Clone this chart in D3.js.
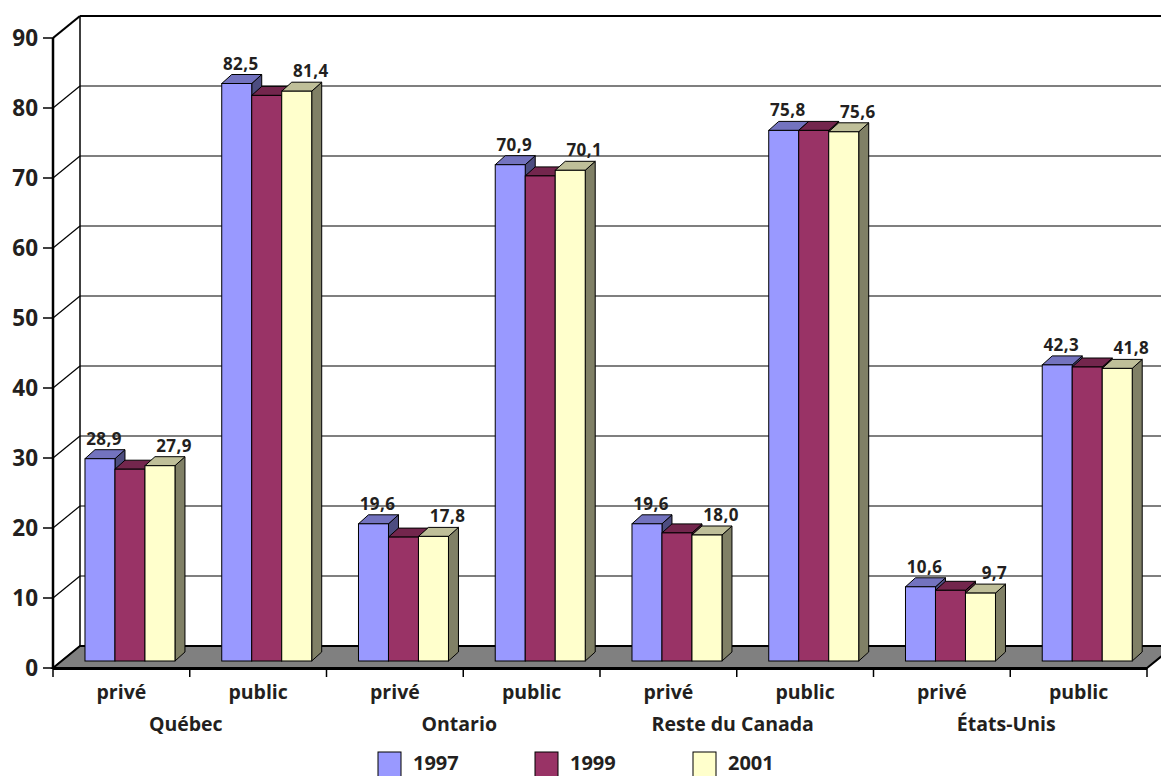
<!DOCTYPE html>
<html><head><meta charset="utf-8">
<script src="https://cdn.jsdelivr.net/npm/d3@7"></script>
<style>html,body{margin:0;padding:0;background:#fff;}svg{display:block;}</style>
</head><body>
<svg id="c" width="1161" height="776"></svg>
<script>
// ---- data ----
const groups = ["Québec", "Ontario", "Reste du Canada", "États-Unis"];
const sectors = ["privé", "public"];
const years = ["1997", "1999", "2001"];
const v1997 = [28.9, 82.5, 19.6, 70.9, 19.6, 75.8, 10.6, 42.3];
const v1999 = [27.4, 80.8, 17.7, 69.3, 18.3, 75.8, 10.1, 42.0];
const v2001 = [27.9, 81.4, 17.8, 70.1, 18.0, 75.6, 9.7, 41.8];
const labeledYears = ["1997", "2001"];
const yTicks = [0, 10, 20, 30, 40, 50, 60, 70, 80, 90];

const seriesValues = {"1997": v1997, "1999": v1999, "2001": v2001};
const cats = [];
groups.forEach(g => sectors.forEach(s => cats.push(g + "|" + s)));

// ---- styling ----
const frontCol = {"1997": "#9999FF", "1999": "#993366", "2001": "#FFFFCC"};
const topCol = {"1997": "#7373BF", "1999": "#73264D", "2001": "#BFBF99"};
const sideCol = {"1997": "#4D4D80", "1999": "#4D1A33", "2001": "#808066"};
const txt = "#231F20";
const font = "'Open Sans', 'DejaVu Sans', sans-serif";

const svg = d3.select("#c");
const X0 = 53, X1 = 1147, Y0 = 668, Y90 = 38;
const DX = 27, DY = -22;           // wall depth
const BDX = 8.6, BDY = -7;          // bar front plane offset
const TDX = 10, TDY = -9;           // bar depth

const y = d3.scaleLinear().domain([0, 90]).range([Y0, Y90]);
const h = v => Y0 - y(v);
const x = d3.scaleBand().domain(cats).range([X0, X1]).paddingInner(0.342).paddingOuter(0.171);
const xs = d3.scaleBand().domain(years).range([0, x.bandwidth()]);
const step = x.step();

// back wall
svg.append("rect").attr("x", X0 + DX).attr("y", Y90 + DY).attr("width", 1161).attr("height", Y0 - Y90).attr("fill", "#fff");

// gridlines on back wall + side wall
const g = svg.append("g");
yTicks.forEach(t => {
  const yy = y(t);
  if (t > 0 && t < 90) {
    g.append("line").attr("x1", X0 + DX).attr("x2", X1 + DX + 20).attr("y1", yy + DY).attr("y2", yy + DY)
      .attr("stroke", "#000").attr("stroke-width", 1.2);
  }
  g.append("line").attr("x1", X0).attr("y1", yy).attr("x2", X0 + DX).attr("y2", yy + DY)
    .attr("stroke", "#000").attr("stroke-width", t === 90 ? 2.2 : 1.2);
  g.append("line").attr("x1", X0 - 10).attr("x2", X0).attr("y1", yy).attr("y2", yy)
    .attr("stroke", "#000").attr("stroke-width", 1.5);
  g.append("text").attr("x", 38).attr("y", yy - 1).attr("text-anchor", "end")
    .attr("dominant-baseline", "central").attr("font-family", font).attr("font-weight", 700)
    .attr("font-size", 22.5).attr("fill", txt).text(t);
});
// top border and back-wall left edge
g.append("line").attr("x1", X0 + DX).attr("x2", X1 + DX + 20).attr("y1", y(90) + DY).attr("y2", y(90) + DY)
  .attr("stroke", "#000").attr("stroke-width", 2.2);
g.append("line").attr("x1", X0 + DX).attr("x2", X0 + DX).attr("y1", y(90) + DY).attr("y2", Y0 + DY)
  .attr("stroke", "#000").attr("stroke-width", 1.5);

// floor
svg.append("path")
  .attr("d", `M${X0},${Y0} L${X1},${Y0} L${X1 + DX},${Y0 + DY} L${X0 + DX},${Y0 + DY} Z`)
  .attr("fill", "#808080").attr("stroke", "#000").attr("stroke-width", 2);
svg.append("line").attr("x1", X0).attr("x2", X1).attr("y1", Y0 + 0.5).attr("y2", Y0 + 0.5)
  .attr("stroke", "#000").attr("stroke-width", 3);
// left axis
svg.append("line").attr("x1", X0).attr("x2", X0).attr("y1", y(90)).attr("y2", Y0)
  .attr("stroke", "#000").attr("stroke-width", 2.5);

// bars
const bars = svg.append("g");
const baseY = Y0 + BDY;
cats.forEach((c, i) => {
  years.forEach(yr => {
    const v = seriesValues[yr][i];
    const bx = x(c) + xs(yr) + BDX;
    const w = xs.bandwidth();
    const top = baseY - h(v);
    bars.append("path")
      .attr("d", `M${bx + w},${top} L${bx + w + TDX},${top + TDY} L${bx + w + TDX},${baseY + TDY} L${bx + w},${baseY} Z`)
      .attr("fill", sideCol[yr]).attr("stroke", "#000").attr("stroke-width", 1).attr("stroke-linejoin", "round");
    bars.append("path")
      .attr("d", `M${bx},${top} L${bx + TDX},${top + TDY} L${bx + w + TDX},${top + TDY} L${bx + w},${top} Z`)
      .attr("fill", topCol[yr]).attr("stroke", "#000").attr("stroke-width", 1).attr("stroke-linejoin", "round");
    bars.append("rect").attr("x", bx).attr("y", top).attr("width", w).attr("height", h(v))
      .attr("fill", frontCol[yr]).attr("stroke", "#000").attr("stroke-width", 1);
  });
});

// value labels
const labels = svg.append("g");
cats.forEach((c, i) => {
  labeledYears.forEach(yr => {
    const v = seriesValues[yr][i];
    const bx = x(c) + xs(yr) + BDX;
    const top = baseY - h(v);
    const off = yr === "1997" ? 4 : 14;
    labels.append("text").attr("x", bx + xs.bandwidth() / 2 + off).attr("y", top + TDY - 5)
      .attr("text-anchor", "middle").attr("font-family", font).attr("font-weight", 700)
      .attr("font-size", 17).attr("letter-spacing", 0.4).attr("fill", txt)
      .text(v.toFixed(1).replace(".", ","));
  });
});

// category axis ticks
const ax = svg.append("g");
for (let k = 0; k <= cats.length; k++) {
  const tx = X0 + k * step;
  ax.append("line").attr("x1", tx).attr("x2", tx).attr("y1", Y0).attr("y2", Y0 + 9)
    .attr("stroke", "#000").attr("stroke-width", 1.5);
}
cats.forEach(c => {
  const s = c.split("|")[1];
  ax.append("text").attr("x", x(c) + x.bandwidth() / 2).attr("y", 699)
    .attr("text-anchor", "middle").attr("font-family", font).attr("font-weight", 700)
    .attr("font-size", 19.5).attr("fill", txt).text(s);
});
groups.forEach((gName, gi) => {
  const cx = X0 + (gi * 2 + 1) * step;
  ax.append("text").attr("x", cx - 4).attr("y", 731)
    .attr("text-anchor", "middle").attr("font-family", font).attr("font-weight", 700)
    .attr("font-size", 19.5).attr("fill", txt).text(gName);
});

// legend
const legX = [378, 535, 693];
const leg = svg.append("g");
years.forEach((yr, i) => {
  leg.append("rect").attr("x", legX[i]).attr("y", 752).attr("width", 23).attr("height", 26)
    .attr("fill", frontCol[yr]).attr("stroke", "#000").attr("stroke-width", 1);
  leg.append("text").attr("x", legX[i] + 35).attr("y", 770).attr("font-family", font)
    .attr("font-weight", 700).attr("font-size", 20).attr("fill", txt).text(yr);
});
</script>
</body></html>
